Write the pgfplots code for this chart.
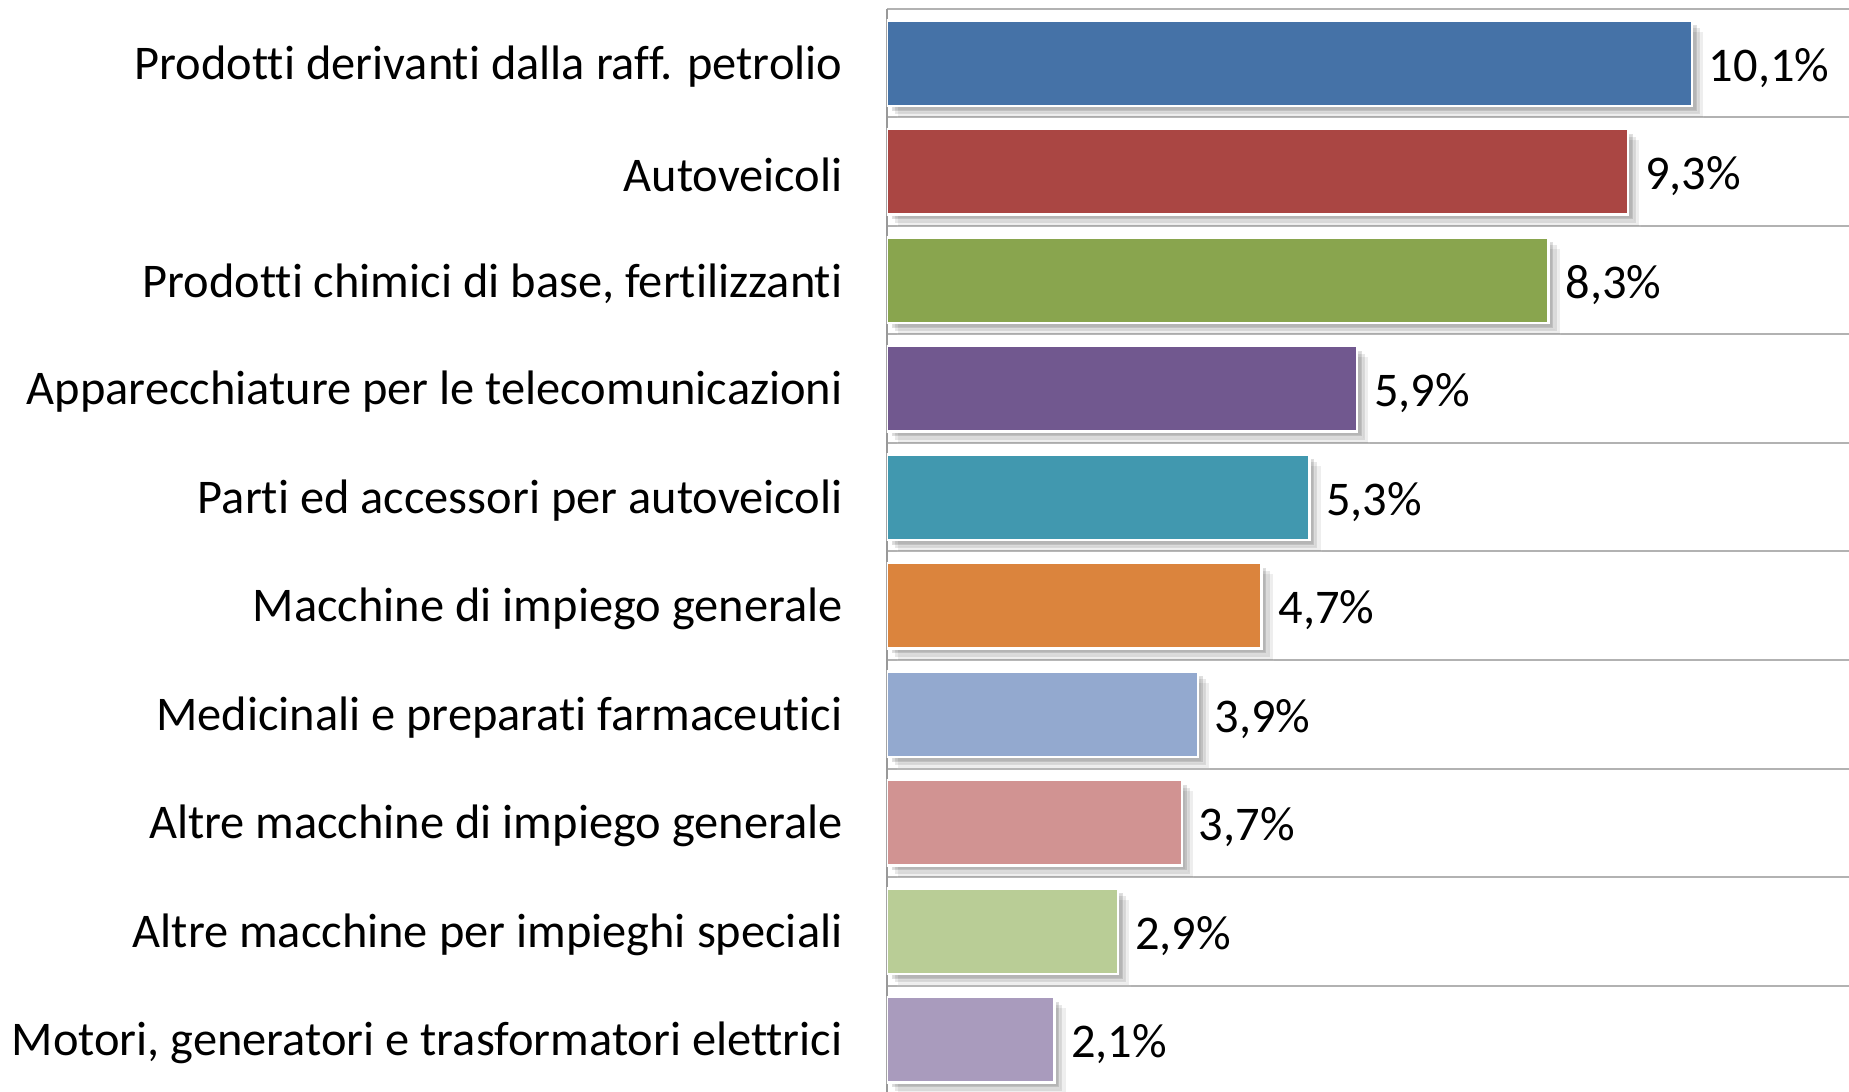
\documentclass[border=0pt]{standalone}
\usepackage{fontspec}
\setmainfont[Ligatures=NoCommon]{Carlito}
\usepackage{pgfplots}
\pgfplotsset{compat=1.18}
\usetikzlibrary{shadows}
\definecolor{c1}{HTML}{4572A7}
\definecolor{c2}{HTML}{AA4643}
\definecolor{c3}{HTML}{89A54E}
\definecolor{c4}{HTML}{71588F}
\definecolor{c5}{HTML}{4198AF}
\definecolor{c6}{HTML}{DB843D}
\definecolor{c7}{HTML}{93A9CF}
\definecolor{c8}{HTML}{D19392}
\definecolor{c9}{HTML}{B9CD96}
\definecolor{c10}{HTML}{A99BBD}
\tikzset{barshadow/.style={
  general shadow={shadow xshift=2.8pt, shadow yshift=-2.8pt, fill=black, opacity=0.07},
  general shadow={shadow xshift=2.0pt, shadow yshift=-2.0pt, fill=black, opacity=0.10},
  general shadow={shadow xshift=1.2pt, shadow yshift=-1.2pt, fill=black, opacity=0.15}}}
\begin{document}
\begin{tikzpicture}
\useasboundingbox (-221.75pt,0.75pt) rectangle (240.5pt,273.5pt);
\begin{axis}[
  at={(0,0)}, anchor=south west,
  scale only axis, width=240.5pt, height=271.25pt,
  xmin=0, xmax=12.07, ymin=-0.5, ymax=9.5, y dir=reverse,
  xbar, bar width=0.79, bar shift=0pt,
  axis x line=none, axis y line*=left,
  y axis line style={draw=black!40, line width=0.5pt, -},
  ytick={0,...,9},
  yticklabels={Prodotti derivanti dalla raff. petrolio, Autoveicoli, {Prodotti chimici di base, fertilizzanti}, Apparecchiature per le telecomunicazioni, Parti ed accessori per autoveicoli, Macchine di impiego generale, Medicinali e preparati farmaceutici, Altre macchine di impiego generale, Altre macchine per impieghi speciali, {Motori, generatori e trasformatori elettrici}},
  yticklabel style={font=\fontsize{12.1}{14}\selectfont, anchor=east, xshift=-7.6pt, yshift=-0.8pt},
  minor ytick={-0.5,0.5,...,8.5},
  yminorgrids=true, ymajorgrids=false,
  minor grid style={draw=black!30, line width=0.5pt},
  major tick length=0pt, minor tick length=0pt,
  nodes near coords={\pgfmathprintnumber[fixed,zerofill,precision=1,use comma,assume math mode=true]{\pgfplotspointmeta}\%},
  nodes near coords align={horizontal},
  every node near coord/.append style={font=\fontsize{12.1}{14}\selectfont, anchor=west, text=black, yshift=-1.1pt, xshift=0.6pt},
]
\addplot[fill=c1, draw=white, line width=0.6pt, barshadow] coordinates {(10.1,0)};
\addplot[fill=c2, draw=white, line width=0.6pt, barshadow] coordinates {(9.3,1)};
\addplot[fill=c3, draw=white, line width=0.6pt, barshadow] coordinates {(8.3,2)};
\addplot[fill=c4, draw=white, line width=0.6pt, barshadow] coordinates {(5.9,3)};
\addplot[fill=c5, draw=white, line width=0.6pt, barshadow] coordinates {(5.3,4)};
\addplot[fill=c6, draw=white, line width=0.6pt, barshadow] coordinates {(4.7,5)};
\addplot[fill=c7, draw=white, line width=0.6pt, barshadow] coordinates {(3.9,6)};
\addplot[fill=c8, draw=white, line width=0.6pt, barshadow] coordinates {(3.7,7)};
\addplot[fill=c9, draw=white, line width=0.6pt, barshadow] coordinates {(2.9,8)};
\addplot[fill=c10, draw=white, line width=0.6pt, barshadow] coordinates {(2.1,9)};
\end{axis}
\end{tikzpicture}
\end{document}
